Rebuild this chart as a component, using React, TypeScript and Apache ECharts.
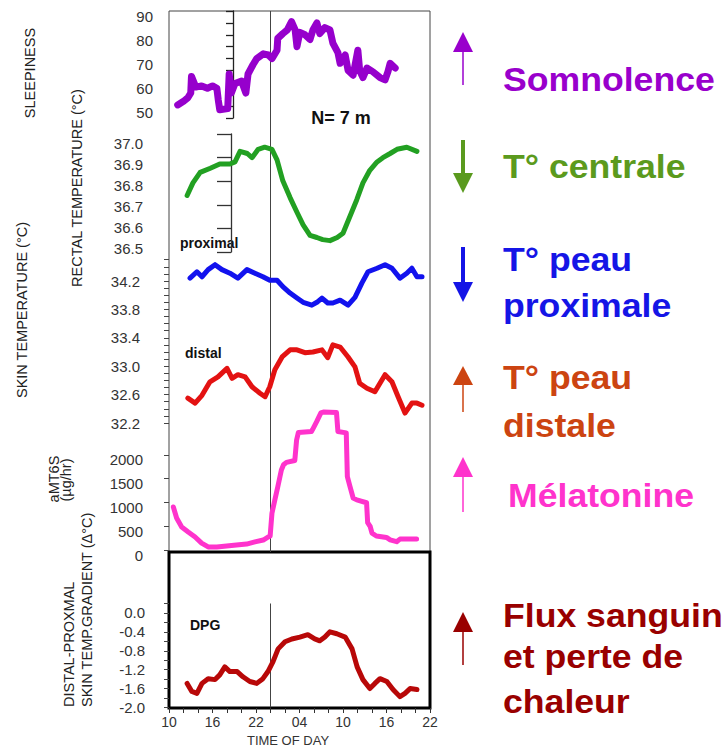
import React, { useEffect, useRef } from "react";
import * as echarts from "echarts";

const FONT = '"Liberation Sans", Arial, Helvetica, sans-serif';

// x axis: hours since midnight of day 1 (10 h -> 46 h = 22 h next day)
const X_MIN = 10;
const X_MAX = 46;
const MIDNIGHT = 24;
const timeLabels = [10, 16, 22, 28, 34, 40, 46];

// tick labels
const sleepinessLabels = [50, 60, 70, 80, 90];
const skinLabels = [32.2, 32.6, 33.0, 33.4, 33.8, 34.2];
const melatoninLabels = [0, 500, 1000, 1500, 2000];
const dpgLabels = [-2.0, -1.6, -1.2, -0.8, -0.4, 0.0];

// series: [hour, value]
const sleepiness: [number, number][] = [
  [11.2, 53], [12.0, 54.5], [12.6, 56], [13.0, 58], [13.1, 65], [13.5, 62], [13.7, 60.5],
  [14.5, 61], [15.3, 60], [16.0, 61], [16.6, 60], [16.8, 55], [17.0, 51], [18.1, 51.5],
  [18.3, 66], [18.6, 58], [19.1, 62], [20.0, 63], [20.6, 58], [20.9, 66], [21.6, 70],
  [22.1, 72.5], [23.0, 74.5], [23.7, 74], [24.2, 72.5], [24.9, 76], [25.0, 81], [25.7, 83],
  [26.3, 84.5], [26.9, 88], [27.4, 84.5], [27.65, 77.5], [28.05, 83.5], [28.75, 82.5],
  [29.45, 80.5], [29.85, 84.5], [30.4, 87.5], [30.8, 83], [31.5, 85.5], [32.2, 84.5],
  [32.6, 79], [33.3, 75], [33.6, 70.5], [34.3, 74], [34.7, 67.5], [35.4, 65.5], [36.05, 76],
  [36.3, 67.5], [36.75, 64.5], [37.3, 68.5], [38.1, 67], [39.1, 64.5], [39.8, 63.5],
  [40.2, 67], [40.5, 70.5], [41.2, 68.5],
];

const rectal: [number, number][] = [
  [12.5, 36.75], [13.3, 36.81], [14.3, 36.86], [15.7, 36.88], [17.0, 36.9], [18.4, 36.9],
  [19.1, 36.91], [19.8, 36.96], [20.8, 36.95], [21.45, 36.93], [22.3, 36.97], [23.2, 36.98],
  [24.2, 36.97], [24.9, 36.92], [25.7, 36.82], [26.7, 36.74], [27.65, 36.67], [28.5, 36.61],
  [29.45, 36.56], [30.4, 36.55], [31.2, 36.54], [32.2, 36.535], [33.2, 36.55], [34.0, 36.57],
  [34.95, 36.65], [35.9, 36.73], [36.75, 36.81], [37.7, 36.87], [38.7, 36.91], [39.5, 36.93],
  [40.5, 36.95], [41.45, 36.97], [42.8, 36.98], [44.2, 36.96],
];

const proximal: [number, number][] = [
  [12.9, 34.24], [13.85, 34.33], [14.55, 34.26], [15.4, 34.36], [16.35, 34.43], [17.3, 34.36],
  [18.4, 34.31], [19.5, 34.24], [20.75, 34.36], [21.85, 34.31], [22.95, 34.26], [23.9, 34.21],
  [24.9, 34.21], [25.7, 34.12], [26.7, 34.03], [27.65, 33.96], [28.5, 33.9], [29.7, 33.86],
  [30.4, 33.9], [31.1, 33.96], [31.9, 33.89], [32.6, 33.89], [33.6, 33.93], [34.7, 33.86],
  [35.65, 33.97], [36.6, 34.17], [37.45, 34.33], [38.7, 34.38], [39.8, 34.43], [40.75, 34.38],
  [41.85, 34.24], [42.8, 34.31], [43.5, 34.38], [44.2, 34.26], [44.9, 34.26],
];

const distal: [number, number][] = [
  [12.6, 32.55], [13.6, 32.48], [14.55, 32.59], [15.65, 32.78], [16.75, 32.85], [18.0, 32.97],
  [18.7, 32.83], [19.5, 32.88], [20.5, 32.85], [21.45, 32.71], [22.55, 32.62], [23.25, 32.57],
  [23.9, 32.71], [24.6, 32.95], [25.6, 33.13], [26.7, 33.23], [27.65, 33.23], [28.75, 33.19],
  [29.85, 33.2], [31.1, 33.23], [31.9, 33.12], [32.6, 33.3], [33.6, 33.27], [34.7, 33.13],
  [35.65, 32.99], [36.3, 32.76], [37.3, 32.69], [38.4, 32.64], [39.1, 32.76], [39.8, 32.88],
  [40.75, 32.78], [41.6, 32.57], [42.55, 32.34], [43.5, 32.48], [44.2, 32.48], [44.9, 32.45],
];

const melatonin: [number, number][] = [
  [10.6, 1010], [11.05, 780], [11.75, 590], [12.65, 485], [13.6, 380], [14.5, 250], [15.4, 170],
  [16.6, 170], [17.95, 190], [19.3, 210], [20.7, 230], [21.85, 275], [23.0, 315], [23.7, 380],
  [23.95, 400], [24.2, 880], [24.6, 1160], [25.0, 1430], [25.5, 1790], [25.8, 1900],
  [26.2, 1950], [27.35, 1990], [27.6, 2420], [27.85, 2580], [29.65, 2600], [29.8, 2640],
  [30.35, 2800], [30.95, 2990], [31.3, 3010], [33.1, 3000], [33.3, 2600], [34.45, 2570],
  [34.6, 1650], [34.95, 1450], [35.4, 1200], [35.9, 1160], [37.25, 1100], [37.4, 680],
  [37.75, 600], [38.0, 460], [38.6, 400], [40.0, 370], [40.5, 320], [41.4, 280], [41.85, 335],
  [44.15, 335],
];

const dpg: [number, number][] = [
  [12.5, -1.49], [13.15, -1.66], [13.85, -1.7], [14.55, -1.49], [15.4, -1.39], [16.35, -1.41],
  [17.0, -1.31], [17.7, -1.14], [18.4, -1.24], [19.4, -1.24], [20.2, -1.35], [21.15, -1.45],
  [22.1, -1.49], [22.95, -1.39], [23.65, -1.24], [24.35, -1.03], [25.05, -0.76], [26.0, -0.61],
  [26.95, -0.55], [28.05, -0.51], [29.15, -0.46], [30.1, -0.55], [30.8, -0.59], [31.5, -0.51],
  [32.2, -0.4], [33.15, -0.44], [34.3, -0.51], [35.25, -0.76], [35.95, -1.14], [36.75, -1.41],
  [37.7, -1.6], [38.4, -1.49], [39.1, -1.39], [40.05, -1.45], [40.9, -1.62], [41.85, -1.77],
  [42.55, -1.7], [43.25, -1.6], [44.2, -1.62],
];

const skinTicks: number[] = [];
for (let i = 0; i <= 23; i++) skinTicks.push(+(32.2 + i * 0.1).toFixed(1));

const L = 169;
const W = 261;

const labelStyle = { fontSize: 15, color: "#333", fontFamily: FONT };

function hiddenX(gridIndex: number) {
  return { type: "value", gridIndex, min: X_MIN, max: X_MAX, show: false };
}

function lineSeries(data: [number, number][], xi: number, yi: number, color: string, width: number) {
  return {
    type: "line",
    xAxisIndex: xi,
    yAxisIndex: yi,
    data,
    symbol: "none",
    showSymbol: false,
    clip: false,
    silent: true,
    z: 3,
    lineStyle: { color, width, join: "round", cap: "round" },
  };
}

function rotText(text: string, x: number, y: number, align: string) {
  return {
    type: "text",
    x,
    y,
    rotation: Math.PI / 2,
    silent: true,
    style: {
      text,
      fill: "#222",
      font: `14.5px ${FONT}`,
      textAlign: align,
      textVerticalAlign: "middle",
    },
  };
}

function rightText(text: string, x: number, baseline: number, color: string) {
  return {
    type: "text",
    x,
    y: baseline - 11.5,
    scaleX: 1.08,
    silent: true,
    style: {
      text,
      fill: color,
      font: `bold 33px ${FONT}`,
      textAlign: "left",
      textVerticalAlign: "middle",
    },
  };
}

function boldLabel(text: string, x: number, y: number, size: number, align = "left") {
  return {
    type: "text",
    x,
    y,
    silent: true,
    style: { text, fill: "#111", font: `bold ${size}px ${FONT}`, textAlign: align, textVerticalAlign: "middle" },
  };
}

function arrow(up: boolean, top: number, bottom: number, headLen: number, shaftW: number, color: string) {
  const cx = 463;
  const hw = 10;
  const head = up
    ? [[cx, top], [cx - hw, top + headLen], [cx + hw, top + headLen]]
    : [[cx - hw, bottom - headLen], [cx + hw, bottom - headLen], [cx, bottom]];
  const shaft = up
    ? { x1: cx, y1: top + headLen - 1, x2: cx, y2: bottom }
    : { x1: cx, y1: top, x2: cx, y2: bottom - headLen + 1 };
  return [
    { type: "line", silent: true, shape: shaft, style: { stroke: color, lineWidth: shaftW } },
    { type: "polygon", silent: true, shape: { points: head }, style: { fill: color } },
  ];
}

export default function App() {
  const ref = useRef<HTMLDivElement>(null);

  useEffect(() => {
    document.body.style.margin = "0";
    if (!ref.current) return;
    const chart = echarts.init(ref.current, undefined, { renderer: "svg" });

    const grids = [
      { left: L, top: 11, width: W, height: 541, show: true, borderColor: "#444", borderWidth: 1 },
      { left: L, top: 11, width: W, height: 107 },
      { left: L, top: 143, width: W, height: 105 },
      { left: L, top: 134, width: W, height: 118 },
      { left: L, top: 259.7, width: W, height: 163.3 },
      { left: L, top: 407.7, width: W, height: 147.3 },
      { left: L, top: 552, width: W, height: 156, show: true, borderColor: "#000", borderWidth: 3 },
      { left: L, top: 603.5, width: W, height: 104 },
    ].map((g) => ({ backgroundColor: "transparent", containLabel: false, outerBoundsMode: "none", ...g }));

    const xAxes: any[] = [0, 1, 2, 3, 4, 5, 6, 7].map((i) => hiddenX(i));
    xAxes[6] = {
      type: "value",
      gridIndex: 6,
      position: "bottom",
      min: X_MIN,
      max: X_MAX,
      interval: 2,
      axisLine: { show: false },
      axisTick: { show: true, length: 5, lineStyle: { color: "#333", width: 1 } },
      splitLine: { show: false },
      axisLabel: {
        customValues: timeLabels,
        formatter: (v: number) => String(v % 24).padStart(2, "0"),
        fontSize: 14,
        color: "#333",
        fontFamily: FONT,
        margin: 7,
      },
    };

    const noLine = { show: false };
    const plain = (v: number) => String(v);
    const yAxes: any[] = [
      { type: "value", gridIndex: 0, position: "left", min: 0, max: 1, show: false },
      {
        type: "value", gridIndex: 1, position: "left", min: 47.5, max: 92.5,
        axisLine: noLine, axisTick: noLine, splitLine: noLine,
        axisLabel: { ...labelStyle, customValues: sleepinessLabels, margin: 16, formatter: plain },
      },
      {
        type: "value", gridIndex: 1, position: "left", min: 0, max: 45, interval: 5, offset: -64,
        axisLine: { show: true, onZero: false, lineStyle: { color: "#222", width: 1.3 } },
        axisTick: { show: true, length: 7, lineStyle: { color: "#222", width: 1.3 } },
        axisLabel: { show: false }, splitLine: noLine,
      },
      {
        type: "value", gridIndex: 2, position: "left", min: 36.5, max: 37.0, interval: 0.1,
        axisLine: noLine, axisTick: noLine, splitLine: noLine,
        axisLabel: { ...labelStyle, margin: 26, formatter: (v: number) => v.toFixed(1) },
      },
      {
        type: "value", gridIndex: 3, position: "left", min: 0, max: 5, interval: 1, offset: -62,
        axisLine: { show: true, onZero: false, lineStyle: { color: "#333", width: 1.3 } },
        axisTick: { show: true, length: 14, lineStyle: { color: "#333", width: 1.3 } },
        axisLabel: { show: false }, splitLine: noLine,
      },
      {
        type: "value", gridIndex: 4, position: "left", min: 32.2, max: 34.5,
        axisLine: noLine, splitLine: noLine,
        axisTick: { show: true, customValues: skinTicks, length: 5, lineStyle: { color: "#444", width: 1 } },
        axisLabel: { ...labelStyle, customValues: skinLabels, margin: 29, formatter: (v: number) => v.toFixed(1) },
      },
      {
        type: "value", gridIndex: 5, position: "left", min: 0, max: 3100,
        axisLine: noLine, axisTick: noLine, splitLine: noLine,
        axisLabel: { ...labelStyle, customValues: melatoninLabels, margin: 26, formatter: plain },
      },
      {
        type: "value", gridIndex: 5, position: "left", min: -105, max: 2995,
        axisLine: noLine, splitLine: noLine, axisLabel: { show: false },
        axisTick: { show: true, customValues: melatoninLabels, length: 5, lineStyle: { color: "#444", width: 1 } },
      },
      { type: "value", gridIndex: 6, position: "left", min: 0, max: 1, show: false },
      {
        type: "value", gridIndex: 7, position: "left", min: -2.0, max: 0.2, interval: 0.2,
        axisLine: noLine, splitLine: noLine,
        axisTick: { show: true, length: 5, lineStyle: { color: "#444", width: 1 } },
        axisLabel: { ...labelStyle, customValues: dpgLabels, margin: 24, formatter: (v: number) => v.toFixed(1) },
      },
    ];

    const midnightStyle = { color: "#444", width: 1 };
    const series: any[] = [
      {
        type: "line", xAxisIndex: 0, yAxisIndex: 0, data: [[MIDNIGHT, 0], [MIDNIGHT, 1]],
        symbol: "none", silent: true, z: 1, lineStyle: midnightStyle,
      },
      {
        type: "line", xAxisIndex: 7, yAxisIndex: 9, data: [[MIDNIGHT, -2.0], [MIDNIGHT, 0.2]],
        symbol: "none", silent: true, z: 1, lineStyle: midnightStyle,
      },
      lineSeries(sleepiness, 1, 1, "#9600cc", 7),
      lineSeries(rectal, 2, 3, "#22a022", 5),
      lineSeries(proximal, 4, 5, "#1212ee", 5),
      lineSeries(distal, 4, 5, "#e31212", 5),
      lineSeries(melatonin, 5, 6, "#ff33cc", 5),
      lineSeries(dpg, 7, 9, "#b80808", 5),
    ];

    const graphic: any[] = [
      rotText("SLEEPINESS", 30, 73, "center"),
      rotText("RECTAL TEMPERATURE (°C)", 77, 188, "center"),
      rotText("SKIN TEMPERATURE (°C)", 22, 310, "center"),
      rotText("aMT6S", 54, 479, "center"),
      rotText("(µg/hr)", 66, 480, "center"),
      rotText("DISTAL-PROXMAL", 69, 707, "left"),
      rotText("SKIN TEMP.GRADIENT (Δ°C)", 87, 707, "left"),
      {
        type: "text", x: 288, y: 740, silent: true,
        style: { text: "TIME OF DAY", fill: "#333", font: `13px ${FONT}`, textAlign: "center", textVerticalAlign: "middle" },
      },
      boldLabel("N= 7 m", 341, 118, 18, "center"),
      boldLabel("proximal", 180, 243, 14),
      boldLabel("distal", 185, 353, 14),
      boldLabel("DPG", 190, 625, 14),
      ...arrow(true, 32, 85, 20, 1.5, "#9900cc"),
      ...arrow(false, 140, 193, 20, 4, "#5a9a1e"),
      ...arrow(false, 247, 302, 20, 4, "#1414e6"),
      ...arrow(true, 366, 412, 19, 1.5, "#cc4411"),
      ...arrow(true, 457, 512, 20, 1.5, "#ff33cc"),
      ...arrow(true, 612, 665, 20, 1.5, "#990000"),
      rightText("Somnolence", 503, 91, "#9900cc"),
      rightText("T° centrale", 503, 178, "#5b9a1d"),
      rightText("T° peau", 503, 271, "#1515e6"),
      rightText("proximale", 503, 317, "#1515e6"),
      rightText("T° peau", 503, 389, "#cc4411"),
      rightText("distale", 503, 437, "#cc4411"),
      rightText("Mélatonine", 508, 507, "#ff33cc"),
      rightText("Flux sanguin", 503, 627, "#990000"),
      rightText("et perte de", 503, 668, "#990000"),
      rightText("chaleur", 503, 713, "#990000"),
    ];

    chart.setOption({
      animation: false,
      backgroundColor: "#ffffff",
      textStyle: { fontFamily: FONT },
      grid: grids,
      xAxis: xAxes,
      yAxis: yAxes,
      series,
      graphic: { elements: graphic },
    });

    return () => chart.dispose();
  }, []);

  return <div ref={ref} style={{ width: 728, height: 748, overflow: "hidden" }} />;
}
